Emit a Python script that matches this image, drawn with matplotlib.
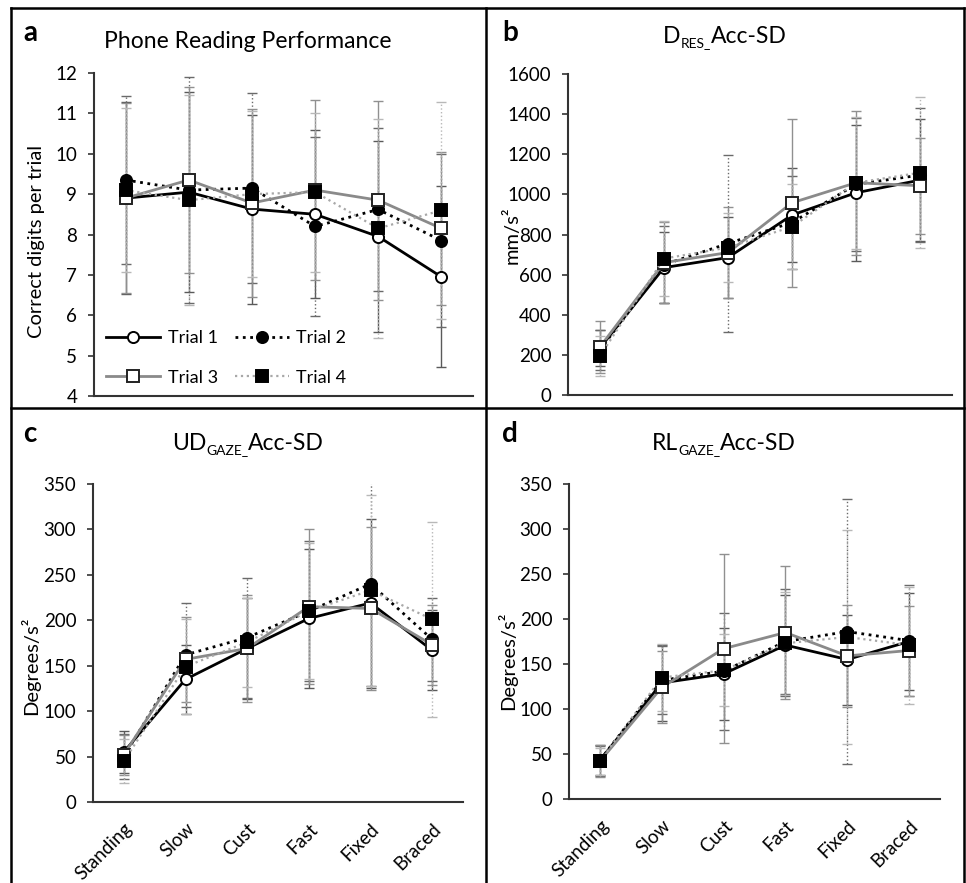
import matplotlib
matplotlib.use("Agg")
import matplotlib.pyplot as plt
from matplotlib.lines import Line2D
from matplotlib.transforms import ScaledTranslation

plt.rcParams['font.family'] = ['Lato', 'DejaVu Sans']

conditions = ["Standing", "Slow", "Cust", "Fast", "Fixed", "Braced"]
trial_names = ["Trial 1", "Trial 2", "Trial 3", "Trial 4"]

# Panel a: Phone reading performance (correct digits per trial)
a_t1 = [8.9, 9.05, 8.63, 8.5, 7.95, 6.95]
a_t2 = [9.35, 9.1, 9.15, 8.2, 8.62, 7.85]
a_t3 = [8.9, 9.35, 8.78, 9.1, 8.85, 8.15]
a_t4 = [9.1, 8.85, 9.0, 9.05, 8.15, 8.6]
a_sd1 = [2.37, 2.47, 2.34, 2.08, 2.36, 2.24]
a_sd2 = [2.08, 2.8, 2.35, 2.22, 2.03, 2.15]
a_sd3 = [2.35, 2.31, 2.34, 2.23, 2.46, 1.9]
a_sd4 = [2.04, 2.6, 2.05, 1.97, 2.72, 2.69]

# Panel b: D_RES Acc-SD (mm/s^2)
b_t1 = [235, 635, 685, 897, 1008, 1071]
b_t2 = [225, 650, 755, 860, 1050, 1096]
b_t3 = [240, 660, 710, 958, 1058, 1043]
b_t4 = [195, 680, 735, 839, 1058, 1108]
b_sd1 = [90, 175, 200, 236, 340, 303]
b_sd2 = [100, 190, 440, 234, 330, 335]
b_sd3 = [128, 200, 225, 418, 360, 240]
b_sd4 = [100, 185, 170, 211, 330, 376]

# Panel c: UD_GAZE Acc-SD (deg/s^2)
c_t1 = [55, 135, 169, 202, 219, 167]
c_t2 = [50, 162, 181, 210, 240, 179]
c_t3 = [52, 157, 169, 215, 213, 173]
c_t4 = [45, 149, 176, 210, 233, 201]
c_sd1 = [23, 38, 56, 77, 93, 44]
c_sd2 = [25, 57, 66, 77, 112, 46]
c_sd3 = [22, 47, 59, 85, 90, 44]
c_sd4 = [24, 52, 49, 75, 105, 107]

# Panel d: RL_GAZE Acc-SD (deg/s^2)
d_t1 = [43, 129, 139, 171, 155, 175]
d_t2 = [43, 132, 142, 175, 186, 176]
d_t3 = [42, 124, 167, 185, 159, 165]
d_t4 = [42, 135, 143, 173, 180, 171]
d_sd1 = [17, 42, 51, 56, 50, 54]
d_sd2 = [16, 38, 65, 58, 147, 62]
d_sd3 = [18, 40, 105, 74, 57, 50]
d_sd4 = [15, 37, 40, 57, 119, 65]

styles = [
    dict(color='black', ls='-', lw=2.0, marker='o', mfc='white', mec='black', ecol='#5a5a5a', els='-'),
    dict(color='black', ls=':', lw=2.0, marker='o', mfc='black', mec='black', ecol='#6a6a6a', els=':'),
    dict(color='#8a8a8a', ls='-', lw=2.0, marker='s', mfc='white', mec='#222222', ecol='#909090', els='-'),
    dict(color='#a8a8a8', ls=':', lw=1.6, marker='s', mfc='black', mec='black', ecol='#b8b8b8', els=':'),
]

W, H = 966, 883
fig = plt.figure(figsize=(W / 100, H / 100), dpi=100)
renderer = fig.canvas.get_renderer()


def frac(l, t, r, b):
    return [l / W, 1 - b / H, (r - l) / W, (b - t) / H]


def rich_title(xc, ybase, parts):
    """parts: list of (text, fontsize, dy_px) placed left to right, centred on xc."""
    texts, widths = [], []
    for s, fs, dy in parts:
        t = fig.text(0, 0, s, fontsize=fs, ha='left', va='baseline')
        texts.append((t, dy))
        widths.append(t.get_window_extent(renderer).width)
    x = xc - sum(widths) / 2
    for (t, dy), w in zip(texts, widths):
        t.set_position((x / W, 1 - (ybase + dy) / H))
        x += w


TS = 16.5
SS = 10
panels = [
    dict(rect=frac(94, 73, 473, 396), means=[a_t1, a_t2, a_t3, a_t4], sds=[a_sd1, a_sd2, a_sd3, a_sd4],
         ylim=(4, 12), yticks=list(range(4, 13)), ylabel='Correct digits per trial', lab=(-0.128, 0.477),
         title=[('Phone Reading Performance', TS, 0)], tpos=(248, 48), letter='a', lpos=(30, 33), xt=False),
    dict(rect=frac(568, 74, 952, 395), means=[b_t1, b_t2, b_t3, b_t4], sds=[b_sd1, b_sd2, b_sd3, b_sd4],
         ylim=(0, 1600), yticks=list(range(0, 1601, 200)), ylabel='mm/s²', lab=(-0.124, 0.498),
         title=[('D', TS, 0), ('RES_', SS, 4), ('Acc-SD', TS, 0)], tpos=(725, 43), letter='b',
         lpos=(510, 33), xt=False),
    dict(rect=frac(93, 484, 463, 802), means=[c_t1, c_t2, c_t3, c_t4], sds=[c_sd1, c_sd2, c_sd3, c_sd4],
         ylim=(0, 350), yticks=list(range(0, 351, 50)), ylabel='Degrees/s²', lab=(-0.142, 0.43),
         title=[('UD', TS, 0), ('GAZE_', SS, 4), ('Acc-SD', TS, 0)], tpos=(248, 450), letter='c',
         lpos=(30, 434), xt=True),
    dict(rect=frac(569, 484, 940, 799), means=[d_t1, d_t2, d_t3, d_t4], sds=[d_sd1, d_sd2, d_sd3, d_sd4],
         ylim=(0, 350), yticks=list(range(0, 351, 50)), ylabel='Degrees/s²', lab=(-0.139, 0.44),
         title=[('RL', TS, 0), ('GAZE_', SS, 4), ('Acc-SD', TS, 0)], tpos=(724, 450), letter='d',
         lpos=(510, 434), xt=True),
]

x = list(range(len(conditions)))
for p in panels:
    ax = fig.add_axes(p['rect'])
    handles = []
    for m, s, st, name in zip(p['means'], p['sds'], styles, trial_names):
        eb = ax.errorbar(x, m, yerr=s, fmt='none', ecolor=st['ecol'], elinewidth=1.0,
                         capsize=3.8, capthick=1.0, zorder=2)
        for lc in eb[2]:
            lc.set_linestyle(st['els'])
        h, = ax.plot(x, m, color=st['color'], ls=st['ls'], lw=st['lw'], marker=st['marker'],
                     ms=8.5 if st['marker'] == 's' else 8, mfc=st['mfc'], mec=st['mec'], mew=1.4,
                     zorder=3, label=name)
        handles.append(h)
    ax.set_xlim(-0.5, len(conditions) - 0.5)
    ax.set_ylim(*p['ylim'])
    ax.set_yticks(p['yticks'])
    ax.set_xticks(x)
    if p['xt']:
        labels = ax.set_xticklabels(conditions, rotation=45, ha='right', va='top',
                                    rotation_mode='anchor', fontsize=13.5)
        off = ScaledTranslation(6 / 100, 0, fig.dpi_scale_trans)
        for lab in labels:
            lab.set_transform(lab.get_transform() + off)
    else:
        ax.set_xticklabels([])
    ax.tick_params(axis='x', length=0, pad=13)
    ax.tick_params(axis='y', labelsize=13.5, length=4, width=1.2, color='#333333', direction='out', pad=8)
    for sp in ['top', 'right']:
        ax.spines[sp].set_visible(False)
    for sp in ['left', 'bottom']:
        ax.spines[sp].set_color('#333333')
        ax.spines[sp].set_linewidth(1.5)
    ax.set_ylabel(p['ylabel'], fontsize=14.5)
    ax.yaxis.set_label_coords(*p['lab'])
    rich_title(p['tpos'][0], p['tpos'][1], p['title'])
    fig.text(p['lpos'][0] / W, 1 - p['lpos'][1] / H, p['letter'], fontsize=20, fontweight='bold',
             ha='center', va='center')
    if p['letter'] == 'a':
        order = [0, 2, 1, 3]
        ax.legend([handles[i] for i in order], [trial_names[i] for i in order], ncol=2,
                  loc='lower left', bbox_to_anchor=(0.013, 0.010), frameon=False, fontsize=13,
                  handlelength=3.0, columnspacing=0.95, handletextpad=0.4, labelspacing=1.3,
                  borderpad=0.4, borderaxespad=0.0)

# Panel frame lines
frame = [((11, 8), (964, 8)), ((11, 8), (11, 883)), ((964, 8), (964, 883)),
         ((486, 8), (486, 883)), ((11, 408), (964, 408))]
for (x0, y0), (x1, y1) in frame:
    fig.add_artist(Line2D([x0 / W, x1 / W], [1 - y0 / H, 1 - y1 / H], transform=fig.transFigure,
                          color='black', lw=1.8))

fig.savefig('out.png', dpi=100)
